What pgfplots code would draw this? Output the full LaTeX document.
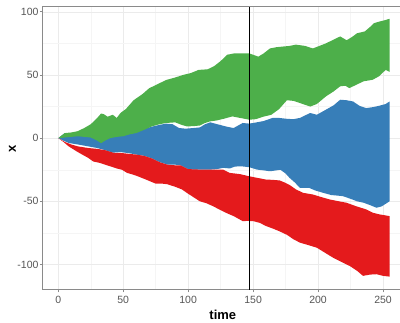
\documentclass[border=0pt]{standalone}
\usepackage{fontspec}
\setmainfont{Liberation Sans}
\usepackage{pgfplots}
\pgfplotsset{compat=1.18}
\usepgfplotslibrary{fillbetween}
\definecolor{sgreen}{HTML}{4DAF4A}
\definecolor{sblue}{HTML}{377EB8}
\definecolor{sred}{HTML}{E41A1C}
\definecolor{axgray}{HTML}{8A8A8A}
\definecolor{tickgray}{HTML}{555555}
\begin{document}
\begin{tikzpicture}
\begin{axis}[name=ax, scale only axis, width=357.3pt, height=284pt,
 xmin=-12, xmax=262.8, ymin=-120, ymax=104.6,
 axis lines=left, axis line style={-, draw=axgray, line width=0.7pt},
 xtick={0,50,...,250}, xticklabels={0,50,100,150,200,250},
 ytick={-100,-50,0,50,100}, yticklabels={-100,-50,0,50,100},
 minor xtick={25,75,...,225}, minor ytick={-75,-25,25,75},
 grid=both, major grid style={draw=black!8, line width=0.5pt},
 minor grid style={draw=black!4, line width=0.4pt},
 tick align=outside, major tick length=2.7pt, minor tick length=0pt,
 tick style={draw=axgray, line width=0.7pt},
 ticklabel style={font=\fontsize{10.5}{12}\selectfont, text=tickgray},
 yticklabel style={xshift=2pt},
 xticklabel style={yshift=-0.5pt},
 xlabel={time}, ylabel={x},
 label style={font=\fontsize{13}{15}\selectfont\bfseries},
 xlabel style={at={(axis description cs:0.5046,-0.088)}, anchor=center},
 ylabel style={at={(axis description cs:-0.0845,0.496)}, anchor=center},
]
% blue band
\addplot[name path=bu, draw=none] coordinates {(0,0) (5,4) (10,3) (15,2) (20,2) (25,1.5) (30,0.5) (35,1) (40,4) (47,3.5) (53,4) (58,5) (63,6.7) (68,8) (73,9.3) (78,10.5) (83,11.5) (88,11) (93,8) (98,7.5) (104,8) (109,8.5) (113,11) (117,12.5) (124,10.6) (130,9) (135,8) (142,12) (147,11.5) (150,12) (158,13.5) (165,16) (170,16) (176,15.3) (181,15) (186,16) (190,18) (194,19.9) (199,18.5) (206,22.5) (212,26) (217,30.4) (222,30) (227,29) (232,25.5) (237,23.8) (242,24.5) (247,25.6) (252,27) (255,29)};
\addplot[name path=bl, draw=none] coordinates {(0,0) (4,-2) (8,-3.8) (15,-5) (23,-6.5) (30,-7.8) (36,-9.5) (42,-11.5) (48,-11) (55,-12) (60,-13) (66,-14) (72,-16) (78,-19) (84,-20.9) (90,-21) (94,-21.5) (100,-24.5) (105,-25) (110,-25) (117,-24.9) (122,-24.5) (127,-23.5) (132,-24) (136,-22.5) (141,-22.3) (147,-23) (153,-24.9) (158,-25.5) (163,-26.2) (168,-25.5) (171,-25) (175,-28) (178,-31.4) (182,-35) (186,-39.3) (193,-39.3) (198,-41.5) (204,-43.3) (210,-45) (219,-45.9) (225,-48) (230,-50) (235,-51.1) (240,-53) (245,-55.1) (249,-54) (252,-52) (255,-50)};
\addplot[fill=sblue, draw=none] fill between[of=bu and bl];
% red band
\addplot[name path=ru, draw=none] coordinates {(0,0) (5,-3) (10,-5) (15,-6.5) (23,-7.8) (30,-8.5) (36,-9.5) (43,-11.7) (48,-11.7) (55,-12.5) (60,-13) (66,-14) (72,-16) (78,-19) (84,-21) (90,-21.5) (94,-21.5) (100,-24.5) (109,-24.9) (119,-24.9) (127,-25) (132,-27.5) (140,-28.5) (147,-30.2) (153,-31.4) (160,-32.8) (165,-33) (170.5,-33.5) (174,-35) (178,-37) (183,-40.6) (188.5,-43.3) (196,-44.6) (202,-46.5) (208.8,-48.5) (216,-50) (221.8,-51.1) (229,-53.8) (237,-56.4) (242,-59) (247.5,-60.4) (255,-61.7)};
\addplot[name path=rl, draw=none] coordinates {(0,0) (4,-3) (8,-6.5) (15,-11) (23,-15.6) (27,-18.5) (32,-19.6) (36,-21) (40,-22.3) (45,-24) (49,-25) (53,-27.5) (58,-29) (62,-30.5) (68,-33) (75,-36) (80,-36) (84,-36.5) (90,-38.5) (95,-40.5) (100,-44) (103,-46) (109,-50) (114,-51.5) (119,-53.8) (125,-57) (130,-59.5) (135,-61.7) (142,-65.7) (146,-65.5) (150,-65.7) (155,-67) (160,-69.6) (165,-71.5) (170,-73.6) (176,-76.5) (181,-80) (186,-82.7) (192,-84.5) (199,-86.7) (205,-90.5) (211.5,-94.6) (218,-98) (224.4,-101.2) (230,-105) (234.6,-109) (240,-108) (245,-107.7) (250,-109) (255,-109.6)};
\addplot[fill=sred, draw=none] fill between[of=ru and rl];
% green band
\addplot[name path=gu, draw=none] coordinates {(0,0) (5,4) (10,4.5) (15,5.5) (20,8) (25,11) (30,16) (33,19.5) (35,19) (38,17) (42,18.5) (45,16) (48,20) (52,23) (58,30) (65,35) (70,39.5) (75,42) (83,46) (90,48) (96,50) (102,51.5) (108,54) (115,54.5) (120,57) (125,61) (130,66) (135,67) (140,67) (147,67) (150,66) (154,64.5) (158,67) (163,71) (168,72) (173,72.5) (178,73) (183,74) (190,73) (196,71) (201,73) (206,75) (212,78) (217,80.5) (222,77.5) (226,80) (230,83) (236,84.5) (240,88) (243,91) (248,92.5) (252,93.5) (255,94.5)};
\addplot[name path=gl, draw=none] coordinates {(0,0) (5,0.5) (10,1) (15,1.5) (20,1) (25,0.5) (30,-2) (33,-4) (36,-2) (40,0) (45,1) (50,1.5) (55,3) (60,4) (66,6.5) (72,9.3) (78,11) (83,12) (90,12.5) (95,10.5) (99,9.3) (104,9.5) (109,10) (113,12) (117,13.3) (122,14) (128,15.5) (134,17.2) (140,16) (147,14.6) (152,15) (158,17) (164,18.5) (170,23) (176,30) (181,29.5) (186,27.8) (191,26) (194,25) (199,27) (206,33) (212,37) (217,41) (221,41.5) (224,39.6) (229,42) (235,45) (242,46.2) (247,49) (252,54) (255,52.5)};
\addplot[fill=sgreen, draw=none] fill between[of=gu and gl];
% vertical line
\addplot[black, line width=0.6pt] coordinates {(147,-120) (147,104.6)};
\end{axis}
\draw[axgray, line width=0.7pt] (ax.north west) -- (ax.north east);
\path ([xshift=-42.7pt,yshift=-32pt]ax.south west) rectangle ([yshift=6pt]ax.north east);
\end{tikzpicture}
\end{document}
